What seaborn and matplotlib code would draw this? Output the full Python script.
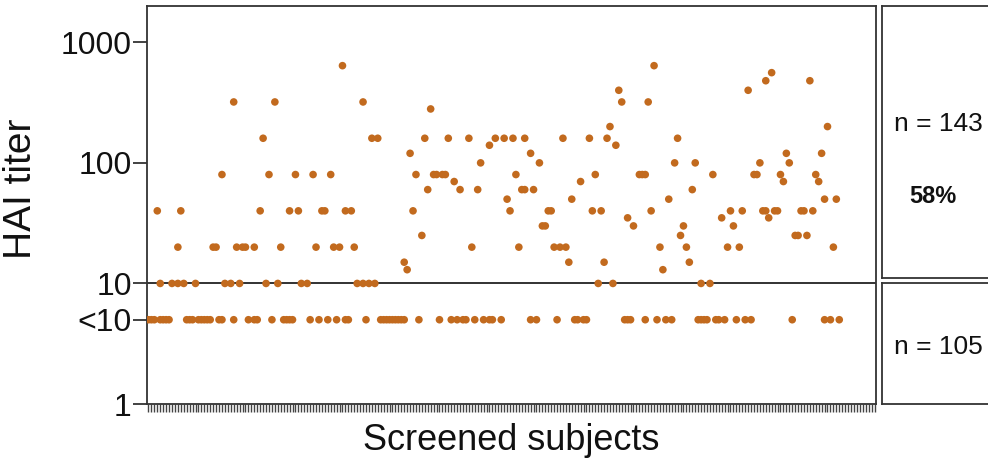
import matplotlib
matplotlib.use("Agg")
import matplotlib.pyplot as plt
import seaborn as sns
import pandas as pd

# ---- data ----
subject = [0, 1, 2, 3, 4, 4, 5, 6, 7, 8, 10, 10, 11, 12, 13, 14, 15, 16, 17, 18, 19, 20, 21, 22, 23, 24, 25, 25,
           26, 28, 29, 29, 30, 31, 32, 33, 34, 36, 36, 37, 38, 39, 40, 41, 42, 43, 44, 45, 46, 47, 48, 48, 49, 50,
           51, 52, 54, 55, 56, 57, 58, 59, 60, 61, 62, 63, 64, 65, 66, 67, 67, 68, 69, 70, 71, 73, 73, 74, 75, 76,
           77, 78, 79, 80, 81, 82, 83, 84, 85, 86, 87,
           87, 88, 89, 90, 91, 92, 93, 94, 95, 96, 97, 98, 99, 100, 101, 102, 103, 104, 105, 106, 107, 108, 109,
           110, 111, 112, 113, 114, 116, 116, 117, 118, 120, 121, 122, 123, 124, 125, 126, 127, 128, 128, 130, 130,
           131, 132, 133, 134, 135, 136, 137, 138, 139, 140, 141, 142, 143, 144, 145, 146, 147, 148, 149, 150, 151,
           152, 153, 154, 155, 156, 157, 158, 159, 160, 161, 162, 163, 163, 164, 165,
           167, 168, 169, 169, 170, 171, 172, 173, 174, 175, 176, 177, 178, 179, 180, 181, 182, 183, 184, 185, 186,
           187, 188, 188, 189, 190, 191, 192, 193, 194, 195, 196, 197, 198, 199, 200, 201, 202, 203, 204, 205, 206,
           207, 208, 209, 210, 210, 211, 212, 213, 214, 215, 216, 217, 218, 219, 220, 221, 222, 223, 224, 225, 226,
           227, 228, 229, 230, 230, 231, 232, 233, 234, 235]
titer = [5, 5, 5, 40, 10, 5, 5, 5, 5, 10, 10, 20, 40, 10, 5, 5, 5, 10, 5, 5, 5, 5, 5, 20, 20, 5, 80, 5,
         10, 10, 5, 320, 20, 10, 20, 20, 5, 5, 20, 5, 40, 160, 10, 80, 5, 320, 10, 20, 5, 5, 5, 40, 5, 80,
         40, 10, 10, 5, 80, 20, 5, 40, 40, 5, 80, 20, 5, 20, 640, 40, 5, 5, 40, 20, 10, 10, 320, 5, 10, 160,
         10, 160, 5, 5, 5, 5, 5, 5, 5, 5, 5,
         15, 13, 120, 40, 80, 5, 25, 160, 60, 280, 80, 80, 5, 80, 80, 160, 5, 70, 5, 60, 5, 5, 160,
         20, 5, 60, 100, 5, 5, 140, 5, 160, 5, 160, 50, 40, 160, 80, 20, 60, 60, 160, 120, 5,
         60, 5, 100, 30, 30, 40, 40, 20, 5, 20, 160, 20, 15, 50, 5, 5, 70, 5, 5, 160, 40,
         80, 10, 40, 15, 160, 200, 10, 140, 400, 320, 5, 35, 5, 5, 30,
         80, 80, 80, 5, 320, 40, 640, 5, 20, 13, 5, 50, 5, 100, 160, 25, 30, 20, 15, 60, 100,
         5, 5, 10, 5, 5, 10, 80, 5, 5, 35, 5, 20, 40, 30, 5, 20, 40, 5, 400, 5, 80,
         80, 100, 40, 40, 480, 35, 560, 40, 40, 80, 70, 120, 100, 5, 25, 25, 40, 40, 25, 480, 40,
         80, 70, 120, 50, 5, 200, 5, 20, 50, 5]
n_subjects = 248
ytick_values = [1, 5, 10, 100, 1000]
ytick_labels = ["1", "<10", "10", "100", "1000"]
threshold = 10
n_above_label = "n = 143"
pct_above_label = "58%"
n_below_label = "n = 105"

df = pd.DataFrame({"subject": subject, "titer": titer})

sns.set_theme(style="white")
plt.rcParams["font.family"] = ["Liberation Sans", "DejaVu Sans"]

W, H = 988, 461
fig = plt.figure(figsize=(W / 100, H / 100), dpi=100)

def box(l, t, r, b):
    return [l / W, 1 - b / H, (r - l) / W, (b - t) / H]

ax = fig.add_axes(box(147, 6, 876, 404))
sns.scatterplot(data=df, x="subject", y="titer", ax=ax, color="#C26A1E",
                s=30, linewidth=0, edgecolor="none", legend=False, zorder=3)
ax.set_yscale("log")
ax.set_ylim(1, 2000)
ax.set_xlim(-0.5, n_subjects - 0.5)
ax.axhline(threshold, color="#222222", lw=1.3, zorder=2)

ax.set_yticks(ytick_values)
ax.set_yticklabels(ytick_labels)
ax.yaxis.set_minor_locator(matplotlib.ticker.NullLocator())
ax.tick_params(axis="y", which="major", direction="out", length=10, width=1.3,
               color="#333333", labelsize=23, pad=1, left=True, labelcolor="#111111")
ax.set_xticks(range(n_subjects))
ax.set_xticklabels([])
ax.tick_params(axis="x", which="major", direction="out", length=6, width=1.0,
               color="#444444", bottom=True)

for sp in ax.spines.values():
    sp.set_visible(True)
    sp.set_color("#333333")
    sp.set_linewidth(1.3)

ax.set_xlabel("Screened subjects", fontsize=26, color="#111111", labelpad=4)
ax.set_ylabel("HAI titer", fontsize=28, color="#111111")
ax.yaxis.set_label_coords(-0.148, 0.54)

# right-hand summary panel
ax_top = fig.add_axes(box(882, 6, 992, 278))
ax_bot = fig.add_axes(box(882, 283, 992, 404))
for a in (ax_top, ax_bot):
    a.set_xticks([])
    a.set_yticks([])
    a.set_xlim(0, 1)
    a.set_ylim(0, 1)
    a.set_facecolor("white")
    for sp in a.spines.values():
        sp.set_visible(True)
        sp.set_color("#333333")
        sp.set_linewidth(1.3)

ax_top.text(0.51, 0.565, n_above_label, ha="center", va="center", fontsize=19, color="#111111")
ax_top.text(0.46, 0.30, pct_above_label, ha="center", va="center", fontsize=17,
            fontweight="bold", color="#111111")
ax_bot.text(0.51, 0.47, n_below_label, ha="center", va="center", fontsize=19, color="#111111")

fig.savefig("out.png", dpi=100)
